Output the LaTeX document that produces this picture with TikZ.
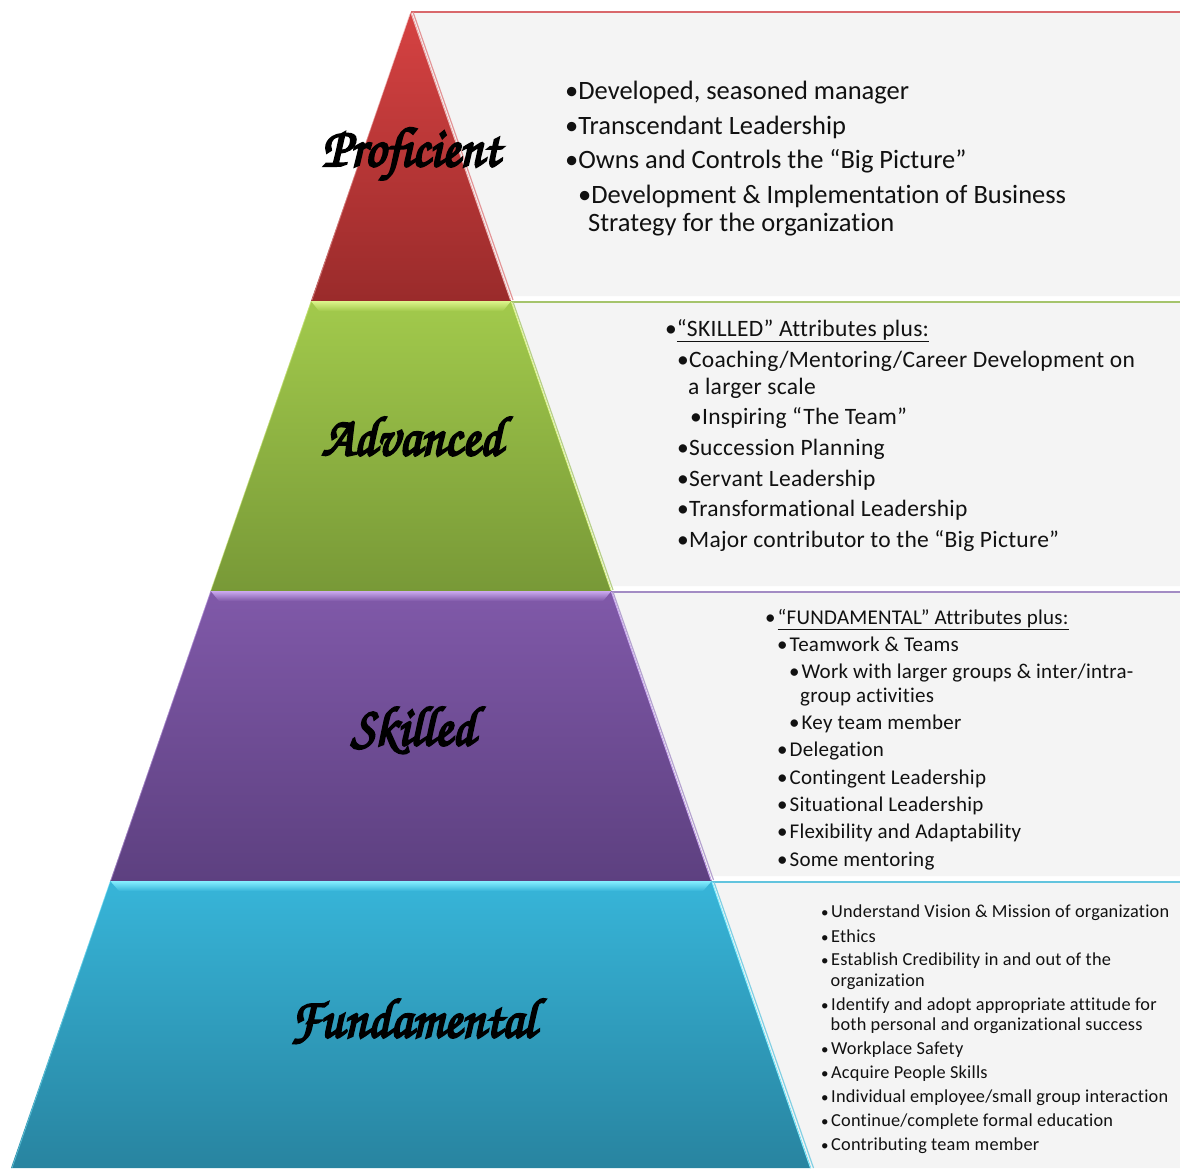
\documentclass[tikz,border=0pt]{standalone}
\usepackage{fontspec}
\setmainfont{Carlito}[Ligatures=CommonOff]
\newfontfamily\wide{Carlito}[Ligatures=CommonOff, LetterSpace=1.2]
\newfontfamily\scr{texgyrechorus-mediumitalic.otf}[FakeBold=4, FakeStretch=0.92]
\usetikzlibrary{calc}
\definecolor{panelgray}{HTML}{F4F4F4}
\definecolor{redA}{HTML}{D64242}
\definecolor{redB}{HTML}{9A2B2B}
\definecolor{redL}{HTML}{D9686B}
\definecolor{grnA}{HTML}{A2CA4C}
\definecolor{grnB}{HTML}{789937}
\definecolor{grnH}{HTML}{DDF58C}
\definecolor{grnL}{HTML}{A5C46C}
\definecolor{purA}{HTML}{8059A9}
\definecolor{purB}{HTML}{5D4080}
\definecolor{purH}{HTML}{CBAAF0}
\definecolor{purL}{HTML}{A38CC4}
\definecolor{cyaA}{HTML}{37B5D9}
\definecolor{cyaB}{HTML}{2884A0}
\definecolor{cyaH}{HTML}{86EEFF}
\definecolor{cyaL}{HTML}{62C4DE}
\definecolor{txt}{HTML}{111111}
\newcommand\bulc{•\hspace{2pt}}
\newcommand\buld{{\fontsize{15}{15}\selectfont•}\hspace{2.5pt}}
\tikzset{
  lbl/.style={anchor=base, inner sep=0, text=black, font=\scr\fontsize{56}{60}\selectfont},
  ta/.style={anchor=base west, inner sep=0, text=txt, font=\fontsize{26.5}{30}\selectfont},
  tb/.style={anchor=base west, inner sep=0, text=txt, font=\wide\fontsize{23.5}{28}\selectfont},
  tc/.style={anchor=base west, inner sep=0, text=txt, font=\wide\fontsize{21}{25}\selectfont},
  td/.style={anchor=base west, inner sep=0, text=txt, font=\wide\fontsize{18.3}{22}\selectfont},
}
\begin{document}
\begin{tikzpicture}[x=1pt,y=-1pt]
\useasboundingbox (0,0) rectangle (1180,1168);
\fill[white] (0,0) rectangle (1180,1168);
% ---------- panels ----------
\fill[panelgray] (411,13) -- (1180,13) -- (1180,296) -- (509.3,296) -- cycle;
\fill[panelgray] (511.7,303) -- (1180,303) -- (1180,586) -- (609.6,586) -- cycle;
\fill[panelgray] (611.7,593) -- (1180,593) -- (1180,876) -- (710,876) -- cycle;
\fill[panelgray] (712,883) -- (1180,883) -- (1180,1168) -- (811,1168) -- cycle;
\draw[redL, line width=2.2] (411,12) -- (1180,12);
\draw[grnL, line width=2.2] (511,302) -- (1180,302);
\draw[purL, line width=2.2] (611,592) -- (1180,592);
\draw[cyaL, line width=2.2] (711.7,882) -- (1180,882);
\draw[redL!70, line width=1.2] (413,12) -- (513,300);
\draw[grnL!80, line width=1.2] (513,302) -- (613,590);
\draw[purL!80, line width=1.2] (613,592) -- (713.5,880);
\draw[cyaL!80, line width=1.2] (714,882) -- (813.5,1168);
% ---------- pyramid ----------
\shade[top color=redA, bottom color=redB] (411,12) -- (511,301) -- (311,301) -- cycle;
\shade[top color=grnA, bottom color=grnB] (311,301) -- (511,301) -- (611.35,591) -- (210.65,591) -- cycle;
\shade[top color=purA, bottom color=purB] (210.65,591) -- (611.35,591) -- (711.7,881) -- (110.3,881) -- cycle;
\shade[top color=cyaA, bottom color=cyaB] (110.3,881) -- (711.7,881) -- (811,1168) -- (11,1168) -- cycle;
% bevels
\shade[top color=grnH, bottom color=grnA] (311,301) -- (511,301) -- (503,311) -- (319,311) -- cycle;
\shade[top color=purH, bottom color=purA] (210.65,591) -- (611.35,591) -- (603,601) -- (219,601) -- cycle;
\shade[top color=cyaH, bottom color=cyaA] (110.3,881) -- (711.7,881) -- (703,891) -- (119,891) -- cycle;
% edge highlights
\draw[white!60!redA, line width=1] (411,13) -- (510.5,300);
\draw[grnH, line width=1] (511.5,302) -- (611,590);
\draw[purH, line width=1] (611.5,592) -- (711,880);
\draw[cyaH, line width=1] (712,882) -- (810.5,1168);
\draw[white!50!redA, line width=0.8, opacity=0.6] (410,14) -- (312,300);
\draw[grnH, line width=0.8, opacity=0.5] (311,302) -- (211,590);
\draw[purH, line width=0.8, opacity=0.5] (210.5,592) -- (111,880);
\draw[cyaH, line width=0.8, opacity=0.5] (110,882) -- (12,1168);
% ---------- labels ----------
\node[lbl] (lp) at (411,166) {Proficient};
\node[lbl] (la) at (412,455) {Advanced};
\node[lbl] (ls) at (413,745) {Skilled};
\node[lbl] (lf) at (413,1037) {Fundamental};
% ---------- proficient text ----------
\node[ta] (p1) at (565,99) {•Developed, seasoned manager};
\node[ta] (p2) at (565,134) {•Transcendant Leadership};
\node[ta] (p3) at (565,168) {•Owns and Controls the “Big Picture”};
\node[ta] (p4) at (578,203) {•Development \& Implementation of Business};
\node[ta] (p5) at (588,231) {Strategy for the organization};
% ---------- advanced text ----------
\node[tb] (a1) at (665,336) {•\underline{“SKILLED” Attributes plus:}};
\node[tb] (a2) at (677,367) {•Coaching/Mentoring/Career Development on};
\node[tb] (a3) at (688,394) {a larger scale};
\node[tb] (a4) at (690,424) {•Inspiring “The Team”};
\node[tb] (a5) at (677,455) {•Succession Planning};
\node[tb] (a6) at (677,486) {•Servant Leadership};
\node[tb] (a7) at (677,516) {•Transformational Leadership};
\node[tb] (a8) at (677,547) {•Major contributor to the “Big Picture”};
% ---------- skilled text ----------
\node[tc] (s1) at (765,624) {\bulc\underline{“FUNDAMENTAL” Attributes plus:}};
\node[tc] (s2) at (777,651) {\bulc Teamwork \& Teams};
\node[tc] (s3) at (789,678) {\bulc Work with larger groups \& inter/intra-};
\node[tc] (s4) at (800,702) {group activities};
\node[tc] (s5) at (789,729) {\bulc Key team member};
\node[tc] (s6) at (777,756) {\bulc Delegation};
\node[tc] (s7) at (777,784) {\bulc Contingent Leadership};
\node[tc] (s8) at (777,811) {\bulc Situational Leadership};
\node[tc] (s9) at (777,838) {\bulc Flexibility and Adaptability};
\node[tc] (s10) at (777,866) {\bulc Some mentoring};
% ---------- fundamental text ----------
\node[td] (f1) at (821,917) {\buld Understand Vision \& Mission of organization};
\node[td] (f2) at (821,942) {\buld Ethics};
\node[td] (f3) at (821,965) {\buld Establish Credibility in and out of the};
\node[td] (f4) at (830.5,986) {organization};
\node[td] (f5) at (821,1010) {\buld Identify and adopt appropriate attitude for};
\node[td] (f6) at (830.5,1030) {both personal and organizational success};
\node[td] (f7) at (821,1054) {\buld Workplace Safety};
\node[td] (f8) at (821,1078) {\buld Acquire People Skills};
\node[td] (f9) at (821,1102) {\buld Individual employee/small group interaction};
\node[td] (f10) at (821,1126) {\buld Continue/complete formal education};
\node[td] (f11) at (821,1150) {\buld Contributing team member};
\end{tikzpicture}
\end{document}
